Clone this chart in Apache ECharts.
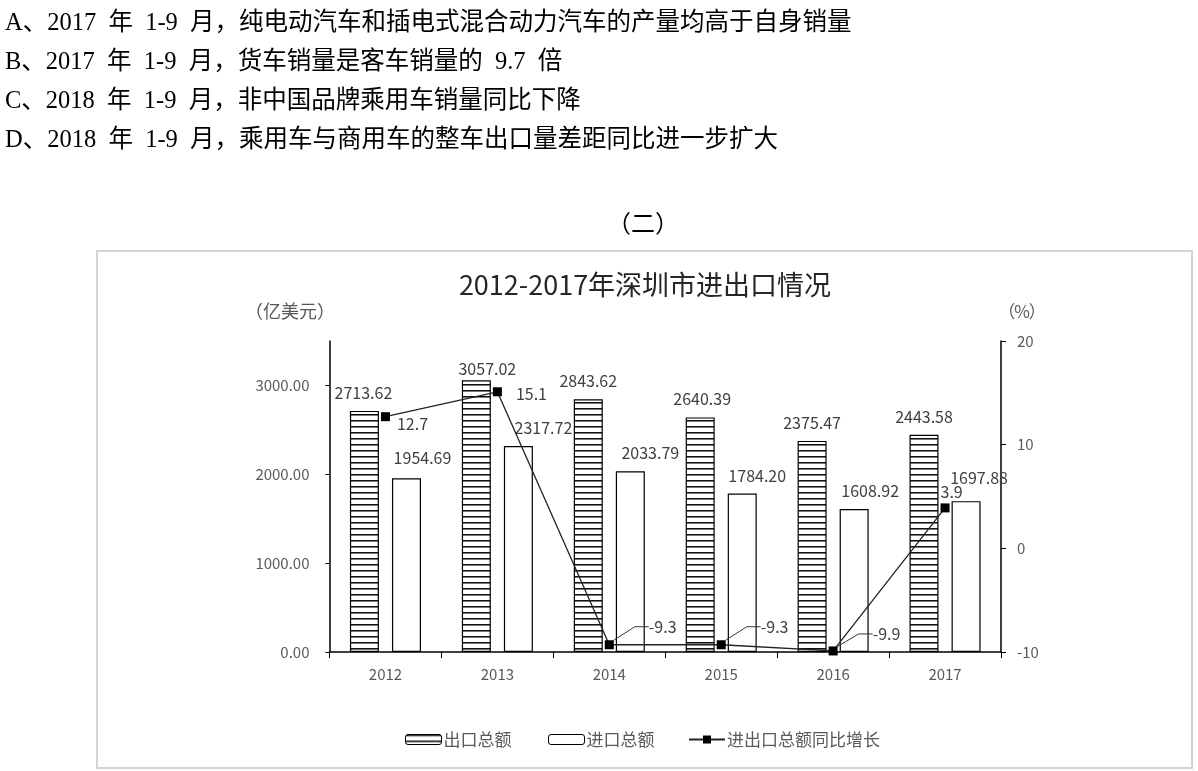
<!DOCTYPE html>
<html><head><meta charset="utf-8">
<script src="https://cdn.jsdelivr.net/npm/echarts@6/dist/echarts.min.js"></script>
<style>html,body{margin:0;padding:0;background:#fff}#c{width:1198px;height:771px}</style>
</head><body><div id="c"></div>
<script>
// ---- data ----
const years = ['2012', '2013', '2014', '2015', '2016', '2017'];
const exportTotal = [2713.62, 3057.02, 2843.62, 2640.39, 2375.47, 2443.58];
const importTotal = [1954.69, 2317.72, 2033.79, 1784.20, 1608.92, 1697.88];
const growthRate = [12.7, 15.1, -9.3, -9.3, -9.9, 3.9];
const leftTicks = [0, 1000, 2000, 3000];
const rightTicks = [-10, 0, 10, 20];
const seriesNames = ['出口总额', '进口总额', '进出口总额同比增长'];
const chartTitle = '2012-2017年深圳市进出口情况';
const leftUnit = '亿美元';
const rightUnit = '%';
const sectionTitle = '（二）';
const questions = [
  'A、2017 年 1-9 月，纯电动汽车和插电式混合动力汽车的产量均高于自身销量',
  'B、2017 年 1-9 月，货车销量是客车销量的 9.7 倍',
  'C、2018 年 1-9 月，非中国品牌乘用车销量同比下降',
  'D、2018 年 1-9 月，乘用车与商用车的整车出口量差距同比进一步扩大'
];

// ---- layout (label nudges, not data) ----
const exportLabelShift = [[-1, 0], [11, 7], [0, 0], [2, 0], [0, 0], [0, 0]];
const importLabelShift = [[16, -2], [25, 0], [20, 0], [15, 0], [16, 0], [13, -5]];
const growthLabelShift = [[2, 7], [9, 2], [30, -18], [30, -18], [30, -17], [-14, -16]];
const growthLeader = [false, false, true, true, true, false];
const legendLeft = [405, 548, 688];

function stripes() {
  const c = document.createElement('canvas');
  c.width = 8; c.height = 6;
  const g = c.getContext('2d');
  g.fillStyle = '#fff'; g.fillRect(0, 0, 8, 6);
  g.fillStyle = '#111'; g.fillRect(0, 0, 8, 1);
  g.fillStyle = '#777'; g.fillRect(0, 1, 8, 1);
  return c;
}
const pattern = { image: stripes(), repeat: 'repeat' };

const CJK = '"Noto Sans CJK SC", "Noto Sans", sans-serif';
const SERIF = '"Liberation Serif", "Noto Sans CJK SC", serif';
const grey = '#595959';
const dark = '#404040';

const chart = echarts.init(document.getElementById('c'), null, { renderer: 'canvas' });

function unitText(x, y, inner, size, pw) {
  return { type: 'text', x: x, y: y, style: {
    text: '{p|（}' + inner + '{p|）}', font: size + 'px ' + CJK, fill: grey,
    textAlign: 'center', textVerticalAlign: 'middle',
    rich: { p: { width: pw, align: 'center', font: size + 'px ' + CJK, fill: grey } } } };
}

const graphics = [
  { type: 'rect', shape: { x: 97, y: 251, width: 1095, height: 517 },
    style: { fill: 'none', stroke: '#d4d4d4', lineWidth: 2 }, z: -1 },
  { type: 'text', x: 643, y: 226, style: { text: sectionTitle, font: '24px ' + SERIF, fill: '#000', textAlign: 'center', textVerticalAlign: 'middle' } },
  { type: 'text', x: 645, y: 285, style: { text: chartTitle, font: '27px ' + CJK, fill: '#262626', textAlign: 'center', textVerticalAlign: 'middle' } },
  unitText(290, 311, leftUnit, 18, 18),
  unitText(1022, 312, rightUnit, 17, 15)
];
questions.forEach((q, i) => {
  graphics.push({ type: 'text', x: 5, y: 24 + i * 39,
    style: { text: q.replace(/ /g, '{sp| }'), font: '24.5px ' + SERIF, fill: '#000', textVerticalAlign: 'middle',
      rich: { sp: { width: 12.25, font: '24.5px ' + SERIF } } } });
});

const labelFont = { fontFamily: CJK, fontSize: 16, color: dark };

chart.setOption({
  animation: false,
  backgroundColor: '#fff',
  textStyle: { fontFamily: CJK },
  graphic: graphics,
  grid: { left: 329.5, right: 197, top: 341, bottom: 119, containLabel: false },
  legend: [0, 1, 2].map(i => ({
    left: legendLeft[i], top: 731, itemWidth: 36, itemHeight: 10, padding: 0,
    textStyle: { fontFamily: CJK, fontSize: 17, color: grey, padding: [0, 0, 0, -3] },
    data: [i === 0 ? { name: seriesNames[0], itemStyle: { color: pattern, borderColor: '#000', borderWidth: 1 } }
         : i === 1 ? { name: seriesNames[1], itemStyle: { color: '#fff', borderColor: '#000', borderWidth: 1 } }
         : { name: seriesNames[2] }]
  })),
  xAxis: {
    type: 'category', data: years, boundaryGap: true,
    axisLine: { lineStyle: { color: '#000', width: 1.5 } },
    axisTick: { show: true, length: 6, alignWithLabel: false, lineStyle: { color: '#000' } },
    axisLabel: { color: grey, fontSize: 15, margin: 15, fontFamily: CJK }
  },
  yAxis: [
    { type: 'value', min: 0, max: 3500, interval: 500, position: 'left',
      splitLine: { show: false },
      axisLine: { show: true, lineStyle: { color: '#000', width: 1.5 } },
      axisTick: { show: true, length: 4, customValues: leftTicks, lineStyle: { color: '#000' } },
      axisLabel: { customValues: leftTicks, color: grey, fontSize: 15, margin: 20, fontFamily: CJK,
        formatter: v => Number(v).toFixed(2) } },
    { type: 'value', min: -10, max: 20, interval: 10, position: 'right',
      splitLine: { show: false },
      axisLine: { show: true, lineStyle: { color: '#000', width: 1.5 } },
      axisTick: { show: true, length: 5, customValues: rightTicks, lineStyle: { color: '#000' } },
      axisLabel: { customValues: rightTicks, color: grey, fontSize: 15, margin: 16, fontFamily: CJK } }
  ],
  series: [
    { name: seriesNames[0], type: 'bar', barWidth: 29, barGap: '45%',
      itemStyle: { color: pattern, borderColor: '#000', borderWidth: 1.2 },
      label: Object.assign({ show: true, position: 'top', distance: 10,
        formatter: p => p.value.toFixed(2) }, labelFont),
      data: exportTotal.map((v, i) => ({ value: v, label: { offset: exportLabelShift[i] } })) },
    { name: seriesNames[1], type: 'bar', barWidth: 29, barGap: '45%',
      itemStyle: { color: '#fff', borderColor: '#000', borderWidth: 1.2 },
      label: Object.assign({ show: true, position: 'top', distance: 10,
        formatter: p => p.value.toFixed(2) }, labelFont),
      data: importTotal.map((v, i) => ({ value: v, label: { offset: importLabelShift[i] } })) },
    { name: seriesNames[2], type: 'line', yAxisIndex: 1, z: 5,
      symbol: 'rect', symbolSize: 9,
      lineStyle: { color: '#222', width: 1.3 },
      itemStyle: { color: '#000' },
      label: Object.assign({ show: true, position: 'right', distance: 5,
        formatter: p => p.value.toFixed(1) }, labelFont),
      labelLine: { show: false, length2: 14, lineStyle: { color: '#333', width: 1 } },
      labelLayout: p => ({ dx: growthLabelShift[p.dataIndex][0], dy: growthLabelShift[p.dataIndex][1] }),
      data: growthRate.map((v, i) => ({ value: v, labelLine: { show: growthLeader[i] } })) }
  ]
});
</script>
</body></html>
